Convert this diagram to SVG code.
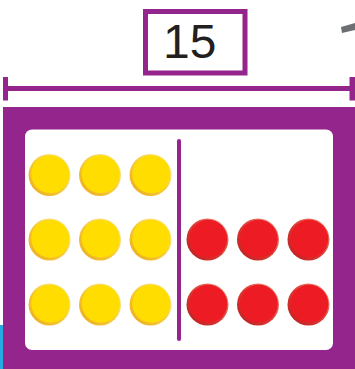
<svg xmlns="http://www.w3.org/2000/svg" width="355" height="369" viewBox="0 0 355 369">
<style>
.purple{fill:#93258c}
.lbl{font-family:"Liberation Sans",Arial,sans-serif;font-size:48px;fill:#231f20}
</style>
<defs>
<linearGradient id="gy" x1="1" y1="0" x2="0" y2="1">
<stop offset="0" stop-color="#fff0b0"/>
<stop offset="0.5" stop-color="#f6cc3a"/>
<stop offset="1" stop-color="#e9a91c"/>
</linearGradient>
<linearGradient id="gr" x1="1" y1="0" x2="0" y2="1">
<stop offset="0" stop-color="#f5a08c"/>
<stop offset="0.5" stop-color="#dc3c34"/>
<stop offset="1" stop-color="#b81c22"/>
</linearGradient>
<g id="yd"><circle r="21" fill="url(#gy)"/><circle cx="0.8" cy="-0.8" r="19" fill="#ffdd00"/></g>
<g id="rd"><circle r="21" fill="url(#gr)"/><circle cx="0.8" cy="-0.8" r="19" fill="#ed1c24"/></g>
</defs>
<rect width="355" height="369" fill="#ffffff"/>
<rect x="0" y="325" width="3" height="44" fill="#27a9e1"/>
<polygon points="341,27 355,23 355,30 342,33" fill="#6d6e71"/>
<g id="label">
<rect x="145.5" y="11.5" width="99.5" height="61.5" fill="#ffffff" stroke="#93258c" stroke-width="5"/>
<text class="lbl" x="163" y="57.7">15</text>
</g>
<g id="dimension">
<rect class="purple" x="5" y="86" width="347" height="5"/>
<rect class="purple" x="3" y="77" width="5" height="23.5"/>
<rect class="purple" x="349.5" y="77" width="5.5" height="23.5"/>
</g>
<g id="frame">
<rect class="purple" x="3" y="107" width="352" height="262"/>
<rect x="25" y="129.5" width="308" height="220.5" rx="7" fill="#ffffff"/>
<line x1="179" y1="141" x2="179" y2="339" stroke="#93258c" stroke-width="4" stroke-linecap="round"/>
</g>
<g id="dots">
<use href="#yd" x="49.5" y="175"/>
<use href="#yd" x="100" y="175"/>
<use href="#yd" x="150.5" y="175"/>
<use href="#yd" x="49.5" y="239.5"/>
<use href="#yd" x="100" y="239.5"/>
<use href="#yd" x="150.5" y="239.5"/>
<use href="#yd" x="49.5" y="304.5"/>
<use href="#yd" x="100" y="304.5"/>
<use href="#yd" x="150.5" y="304.5"/>
<use href="#rd" x="207.5" y="239.5"/>
<use href="#rd" x="258" y="239.5"/>
<use href="#rd" x="308.5" y="239.5"/>
<use href="#rd" x="207.5" y="304.5"/>
<use href="#rd" x="258" y="304.5"/>
<use href="#rd" x="308.5" y="304.5"/>
</g>
</svg>
